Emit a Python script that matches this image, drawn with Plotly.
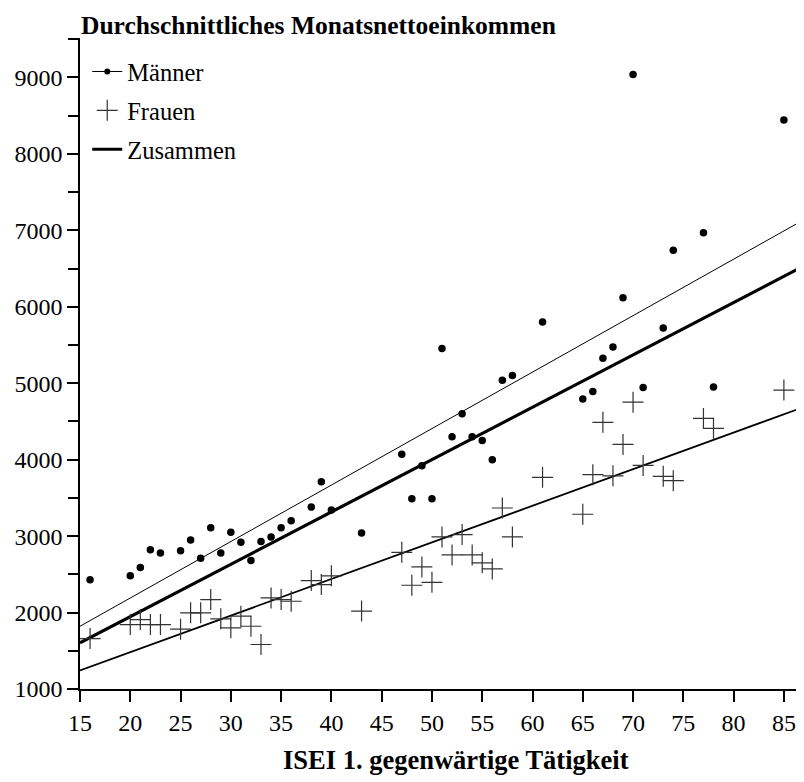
import plotly.graph_objects as go

# ---- data ----
isei_maenner = [16, 20, 21, 22, 23, 25, 26, 27, 28, 29, 30, 31, 32, 33, 34, 35, 36, 38, 39, 40,
                43, 47, 48, 49, 50, 51, 52, 53, 54, 55, 56, 57, 58, 61, 65, 66, 67, 68, 69, 70,
                71, 73, 74, 77, 78, 85]
einkommen_maenner = [2430, 2480, 2590, 2820, 2780, 2810, 2950, 2710, 3110, 2780, 3050, 2920, 2680,
                     2930, 2990, 3110, 3200, 3380, 3710, 3340, 3040, 4070, 3490, 3920, 3490, 5455,
                     4300, 4600, 4300, 4250, 4000, 5040, 5100, 5800, 4795, 4893, 5327, 5475, 6118,
                     9037, 4943, 5722, 6741, 6967, 4952, 8444]

isei_frauen = [16, 20, 21, 22, 23, 25, 26, 27, 28, 29, 30, 31, 32, 33, 34, 35, 36, 38, 39, 40,
               43, 47, 48, 49, 50, 51, 52, 53, 54, 55, 56, 57, 58, 61, 65, 66, 67, 68, 69, 70,
               71, 73, 74, 77, 78, 85]
einkommen_frauen = [1660, 1843, 1908, 1843, 1843, 1783, 1996, 1996, 2170, 1918, 1800, 1952, 1821,
                    1582, 2192, 2170, 2148, 2418, 2366, 2480, 2020, 2788, 2357, 2597, 2396, 2990,
                    2754, 3020, 2754, 2650, 2571, 3368, 2990, 3769, 3286, 3804, 4488, 3788, 4200,
                    4752, 3925, 3782, 3725, 4540, 4410, 4910]

# regression lines (end values)
fit_x = [15, 87]
fit_maenner = [1821, 7140]
fit_frauen = [1242, 4690]
fit_zusammen = [1604, 6535]

x_ticks = [15, 20, 25, 30, 35, 40, 45, 50, 55, 60, 65, 70, 75, 80, 85]
y_ticks = [1000, 2000, 3000, 4000, 5000, 6000, 7000, 8000, 9000]

title_text = "Durchschnittliches Monatsnettoeinkommen"
x_title = "ISEI 1. gegenwärtige Tätigkeit"

FONT = "Liberation Serif, Times New Roman, serif"
CROSS_COLOR = "#333333"

fig = go.Figure()

# fit lines
fig.add_trace(go.Scatter(x=fit_x, y=fit_maenner, mode="lines",
                         line=dict(color="black", width=1), showlegend=False, hoverinfo="skip"))
fig.add_trace(go.Scatter(x=fit_x, y=fit_frauen, mode="lines",
                         line=dict(color="black", width=1.8), showlegend=False, hoverinfo="skip"))
fig.add_trace(go.Scatter(x=fit_x, y=fit_zusammen, mode="lines",
                         line=dict(color="black", width=3.2), showlegend=False, hoverinfo="skip"))

# points
fig.add_trace(go.Scatter(x=isei_maenner, y=einkommen_maenner, mode="markers",
                         marker=dict(symbol="circle", size=7.5, color="black"),
                         showlegend=False))
fig.add_trace(go.Scatter(x=isei_frauen, y=einkommen_frauen, mode="markers",
                         marker=dict(symbol="cross-thin-open", size=15, color=CROSS_COLOR,
                                     line=dict(color=CROSS_COLOR, width=1.2)),
                         showlegend=False))

# legend entries
fig.add_trace(go.Scatter(x=[None], y=[None], mode="lines+markers", name="Männer",
                         legendgroup="m",
                         line=dict(color="black", width=1),
                         marker=dict(symbol="circle", size=6, color="black")))
fig.add_trace(go.Scatter(x=[None], y=[None], mode="markers", name="Frauen",
                         legendgroup="f",
                         marker=dict(symbol="cross-thin-open", size=15, color=CROSS_COLOR,
                                     line=dict(color=CROSS_COLOR, width=1.2))))
fig.add_trace(go.Scatter(x=[None], y=[None], mode="lines", name="Zusammen",
                         legendgroup="z",
                         line=dict(color="black", width=3)))

# the page body has an 8px default margin, so the figure is sized to fit the window
fig.update_layout(
    width=796, height=774,
    paper_bgcolor="white", plot_bgcolor="white",
    margin=dict(l=72, r=1, t=30, b=92.5, autoexpand=False),
    font=dict(family=FONT, size=24, color="black"),
    showlegend=True,
    legend=dict(x=0.01, y=0.983, xanchor="left", yanchor="top",
                bgcolor="rgba(0,0,0,0)", font=dict(family=FONT, size=24.5),
                tracegroupgap=4, itemwidth=30),
    xaxis=dict(range=[15, 86.9], tickvals=x_ticks, ticks="outside", ticklen=11,
               tickwidth=1.5, tickcolor="black", showline=True, linecolor="black",
               linewidth=1.5, showgrid=False, zeroline=False, automargin=False,
               tickfont=dict(family=FONT, size=24)),
    yaxis=dict(range=[1000, 9516], tickvals=y_ticks, ticks="outside", ticklen=11,
               tickwidth=1.5, tickcolor="black", showline=True, linecolor="black",
               linewidth=1.5, showgrid=False, zeroline=False, automargin=False,
               tickfont=dict(family=FONT, size=24),
               minor=dict(tickvals=[v + 500 for v in y_ticks], ticks="outside",
                          ticklen=10, tickwidth=1.5, tickcolor="black", showgrid=False)),
    annotations=[
        dict(text="<b>" + title_text + "</b>", xref="paper", yref="paper",
             x=0, y=1, xanchor="left", yanchor="bottom", yshift=-3, borderpad=0,
             showarrow=False, font=dict(family=FONT, size=25.5, color="black")),
        dict(text="<b>" + x_title + "</b>", xref="paper", yref="paper",
             x=0.5, y=0, xanchor="center", yanchor="middle", xshift=14, yshift=-71,
             showarrow=False, font=dict(family=FONT, size=26.5, color="black")),
    ],
)

fig.write_html("out.html")
